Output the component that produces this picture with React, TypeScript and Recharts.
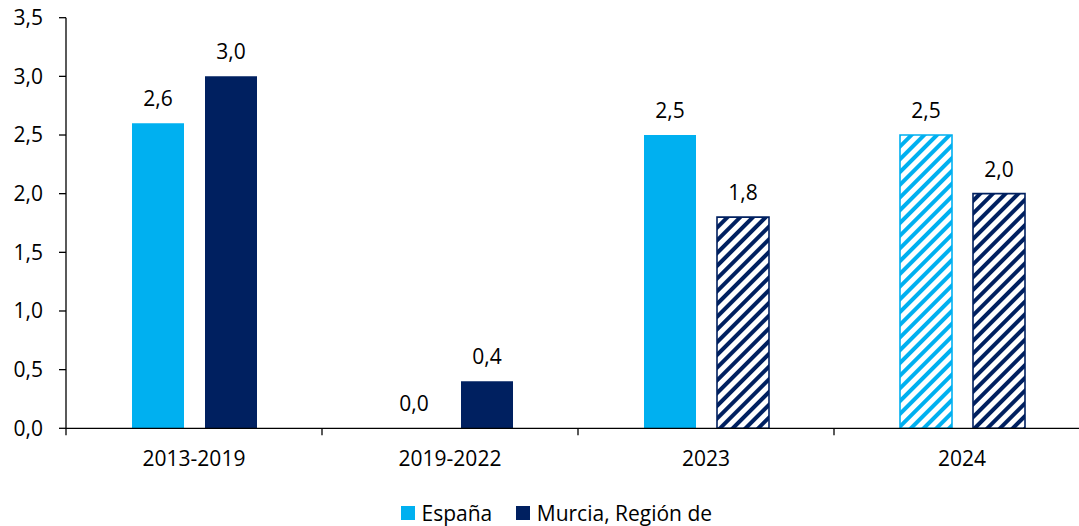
import * as React from "react"
import { BarChart, Bar, XAxis, YAxis, Cell, LabelList } from "recharts"

const categories = ["2013-2019", "2019-2022", "2023", "2024"]
const espana = [2.6, 0.0, 2.5, 2.5]
const murcia = [3.0, 0.4, 1.8, 2.0]
// forecast periods drawn hatched
const espanaHatched = [false, false, false, true]
const murciaHatched = [false, false, true, true]
const yTicks = [0, 0.5, 1, 1.5, 2, 2.5, 3, 3.5]

const LIGHT = "#00B0F0"
const NAVY = "#002060"
const FONT = "'Open Sans', sans-serif"

const data = categories.map((name, i) => ({
  name,
  espana: espana[i],
  murcia: murcia[i],
}))

const fmt = (v: number) => v.toFixed(1).replace(".", ",")

// keep zero bars as a hairline so their value label still gets drawn
const minSize = (v: any) => (Number(v) === 0 ? 0.01 : 0)

function CategoryTick(props: any) {
  const { x, y, payload } = props
  const half = payload && typeof payload.offset === "number" ? payload.offset : 128
  const axisY = y - 23
  return (
    <g>
      <line x1={x - half} x2={x - half} y1={axisY} y2={axisY + 7} stroke="#000" strokeWidth={1.3} />
      <text x={x} y={y} dy="0.71em" textAnchor="middle" fill="#000" fontSize={21} fontFamily={FONT}>
        {payload.value}
      </text>
    </g>
  )
}

function Swatch({ color, label }: { color: string; label: string }) {
  return (
    <div style={{ display: "flex", alignItems: "center", marginRight: 24 }}>
      <span style={{ width: 14, height: 14, background: color, marginRight: 6.5, display: "inline-block" }} />
      <span>{label}</span>
    </div>
  )
}

export default function App() {
  return (
    <div style={{ position: "absolute", left: 0, top: 0, width: 1079, height: 526, overflow: "hidden", background: "#fff" }}>
      <svg width={0} height={0} style={{ position: "absolute" }}>
        <defs>
          <pattern id="hatchLight" patternUnits="userSpaceOnUse" width={9} height={9} patternTransform="rotate(45)">
            <rect width={9} height={9} fill="#fff" />
            <rect width={4} height={9} fill={LIGHT} />
          </pattern>
          <pattern id="hatchNavy" patternUnits="userSpaceOnUse" width={9} height={9} patternTransform="rotate(45)">
            <rect width={9} height={9} fill="#fff" />
            <rect width={4} height={9} fill={NAVY} />
          </pattern>
        </defs>
      </svg>
      <BarChart
        width={1090}
        height={526}
        data={data}
        margin={{ top: 17.7, right: 0, left: 0, bottom: 57.7 }}
        barSize={52}
        barGap={21}
      >
        <XAxis
          dataKey="name"
          height={40}
          axisLine={{ stroke: "#000", strokeWidth: 1.3 }}
          tickLine={false}
          tickSize={0}
          tickMargin={23}
          tick={<CategoryTick />}
          interval={0}
        />
        <YAxis
          width={66}
          domain={[0, 3.5]}
          ticks={yTicks}
          tickFormatter={fmt}
          axisLine={{ stroke: "#000", strokeWidth: 1.3 }}
          tickLine={{ stroke: "#000", strokeWidth: 1.3 }}
          tickSize={7}
          tickMargin={16}
          tick={{ fill: "#000", fontSize: 21, fontFamily: FONT }}
        />
        <Bar dataKey="espana" isAnimationActive={false} minPointSize={minSize}>
          {espana.map((_, i) => (
            <Cell
              key={i}
              fill={espanaHatched[i] ? "url(#hatchLight)" : LIGHT}
              stroke={espanaHatched[i] ? LIGHT : "none"}
              strokeWidth={1.6}
            />
          ))}
          <LabelList dataKey="espana" position="top" offset={17} formatter={(v: any) => fmt(Number(v))} fill="#000" fontSize={21} fontFamily={FONT} />
        </Bar>
        <Bar dataKey="murcia" isAnimationActive={false} minPointSize={minSize}>
          {murcia.map((_, i) => (
            <Cell
              key={i}
              fill={murciaHatched[i] ? "url(#hatchNavy)" : NAVY}
              stroke={murciaHatched[i] ? NAVY : "none"}
              strokeWidth={1.6}
            />
          ))}
          <LabelList dataKey="murcia" position="top" offset={17} formatter={(v: any) => fmt(Number(v))} fill="#000" fontSize={21} fontFamily={FONT} />
        </Bar>
      </BarChart>
      <div
        style={{
          position: "absolute",
          left: 401,
          top: 500,
          height: 26,
          lineHeight: "24px",
          display: "flex",
          alignItems: "center",
          fontFamily: FONT,
          fontSize: 21,
          color: "#000",
          whiteSpace: "nowrap",
        }}
      >
        <Swatch color={LIGHT} label="España" />
        <Swatch color={NAVY} label="Murcia, Región de" />
      </div>
    </div>
  )
}
